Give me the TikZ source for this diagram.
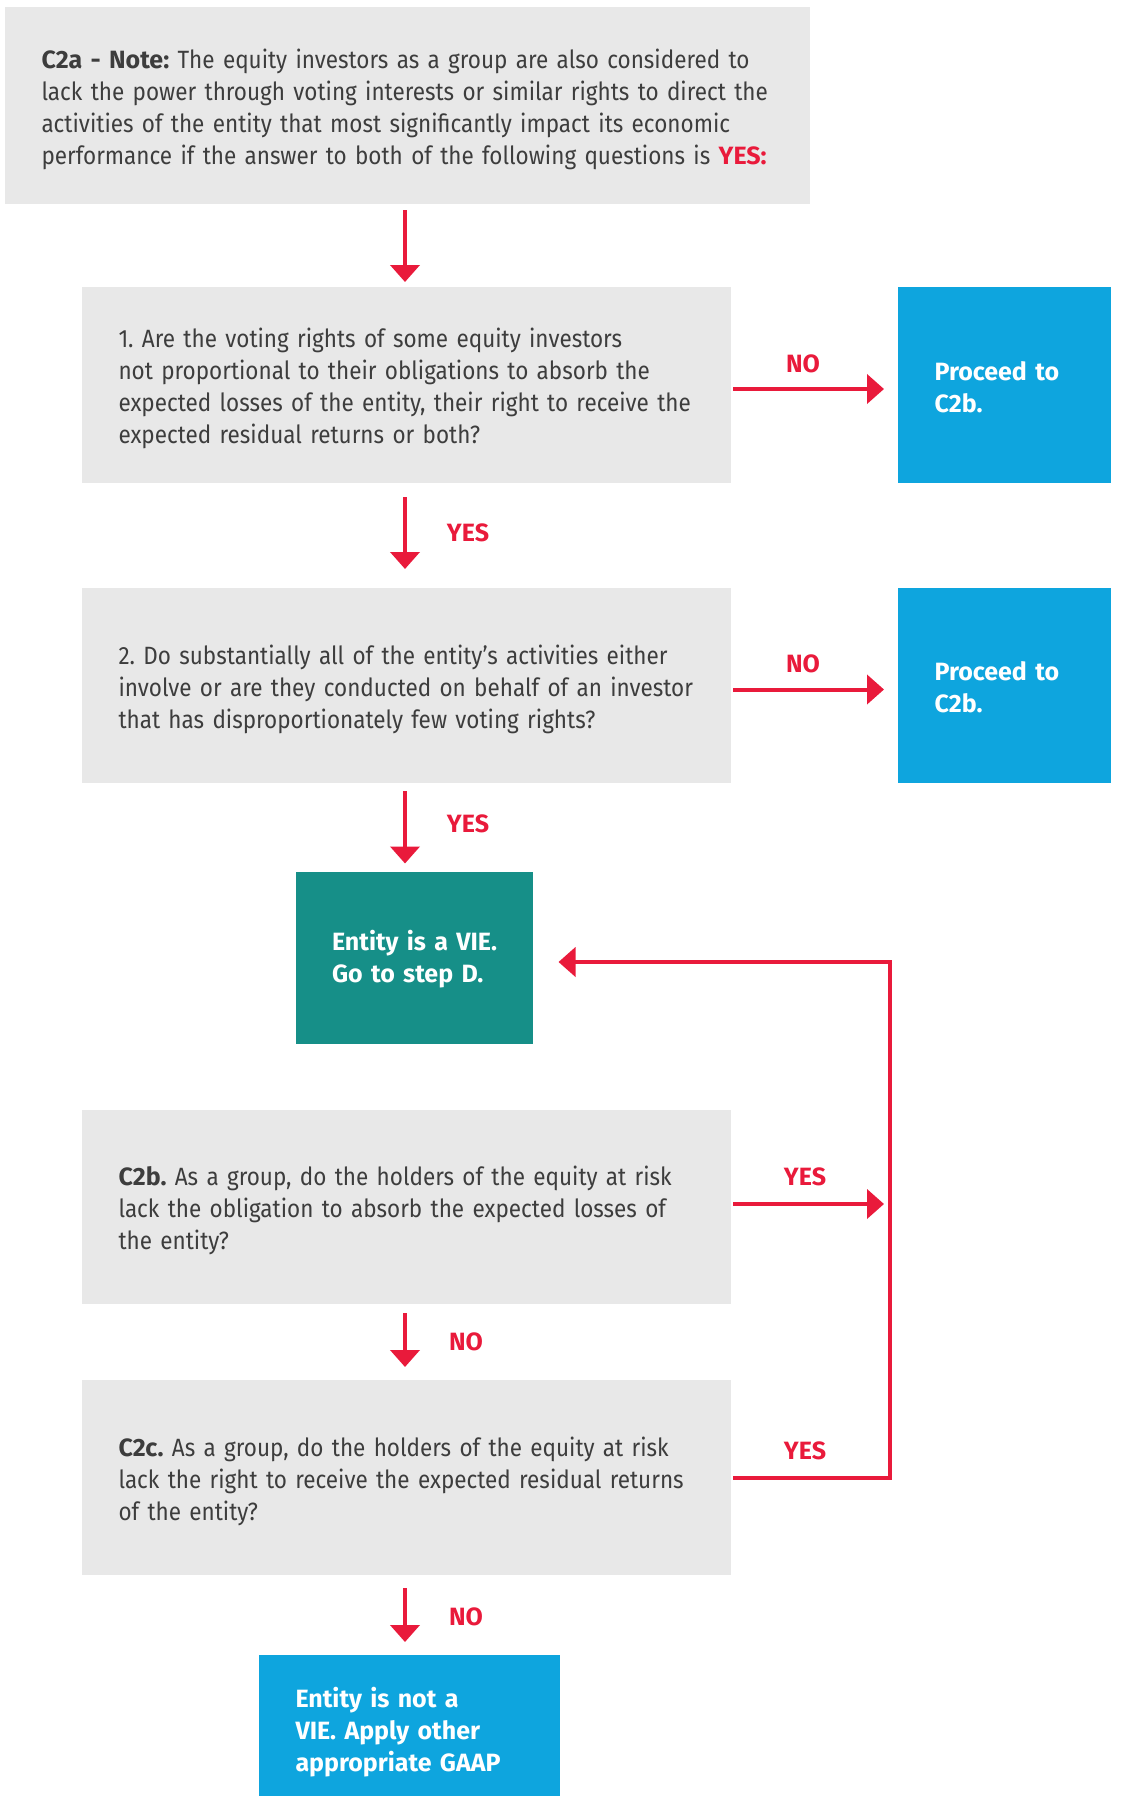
\documentclass[tikz,border=0pt]{standalone}
\usepackage{fontspec}
\setmainfont{Fira Sans}[FakeStretch=0.9, WordSpace=0.8,
  BoldFeatures={FakeStretch=1.0}]
\usetikzlibrary{arrows.meta,calc}
\frenchspacing

\definecolor{boxgrey}{HTML}{E8E8E8}
\definecolor{stepblue}{HTML}{0EA5DE}
\definecolor{stepteal}{HTML}{168F88}
\definecolor{flowred}{HTML}{E91A3B}
\definecolor{bodytext}{HTML}{3D3D3D}

\begin{document}
\begin{tikzpicture}[x=1pt,y=-1pt,
  every node/.style={inner ysep=0pt, outer sep=0pt},
  qbox/.style={fill=boxgrey, text=bodytext, anchor=north west, align=left,
    inner xsep=36.5pt, font=\fontsize{25}{32}\selectfont,
    execute at begin node={\rule{0pt}{27pt}}},
  endbox/.style={anchor=north west, align=left, text=white,
    inner xsep=36.5pt, font=\fontsize{25}{32}\selectfont\bfseries,
    execute at begin node={\rule{0pt}{23pt}}},
  lbl/.style={text=flowred, font=\fontsize{25}{30}\selectfont\bfseries},
  arr/.style={draw=flowred, line width=4pt, -{Triangle[width=29pt,length=17pt]}},
  loopline/.style={draw=flowred, line width=4pt, line join=miter}
]
\useasboundingbox (0,0) rectangle (1120,1796);

% question boxes
\node[qbox, text width=732pt, minimum height=197pt] (top) at (5,7)
  {\textbf{C2a - Note:} The equity investors as a group are also considered to\\
   lack the power through voting interests or similar rights to direct the\\
   activities of the entity that most significantly impact its economic\\
   performance if the answer to both of the following questions is \textbf{\textcolor{flowred}{YES:}}};

\node[qbox, text width=576pt, minimum height=196pt] (b1) at (82,287)
  {1. Are the voting rights of some equity investors\\
   not proportional to their obligations to absorb the\\
   expected losses of the entity, their right to receive the\\
   expected residual returns or both?};

\node[qbox, text width=576pt, minimum height=195pt] (b2) at (82,588)
  {2. Do substantially all of the entity's activities either\\
   involve or are they conducted on behalf of an investor\\
   that has disproportionately few voting rights?};

\node[qbox, text width=576pt, minimum height=194pt] (c2b) at (82,1110)
  {\textbf{C2b.} As a group, do the holders of the equity at risk\\
   lack the obligation to absorb the expected losses of\\
   the entity?};

\node[qbox, text width=576pt, minimum height=195pt] (c2c) at (82,1380)
  {\textbf{C2c.} As a group, do the holders of the equity at risk\\
   lack the right to receive the expected residual returns\\
   of the entity?};

% outcome boxes
\node[endbox, fill=stepblue, text width=140pt, minimum height=196pt] (p1) at (898,287)
  {Proceed to\\C2b.};
\node[endbox, fill=stepblue, text width=140pt, minimum height=195pt] (p2) at (898,588)
  {Proceed to\\C2b.};
\node[endbox, fill=stepteal, inner xsep=32.5pt, text width=172pt, minimum height=172pt] (vie) at (295.5,871.5)
  {\hspace*{4pt}Entity is a VIE.\\\hspace*{4pt}Go to step D.};
\node[endbox, fill=stepblue, text width=228pt, minimum height=151pt] (fin) at (259,1655)
  {Entity is not a\\VIE. Apply other\\appropriate GAAP};

% guide coordinates for the connectors
\coordinate (ax) at (405,0);
\coordinate (loop) at (890,962);

% vertical flow
\draw[arr] ([yshift=-6pt]top.south -| ax) -- ([yshift=5pt]b1.north -| ax);
\draw[arr] ([yshift=-14pt]b1.south -| ax) -- ([yshift=19pt]b2.north -| ax);
\draw[arr] ([yshift=-8pt]b2.south -| ax) -- ([yshift=8pt]vie.north -| ax);
\draw[arr] ([yshift=-9pt]c2b.south -| ax) -- ([yshift=13pt]c2c.north -| ax);
\draw[arr] ([yshift=-13pt]c2c.south -| ax) -- ([yshift=13pt]fin.north -| ax);

% NO branches to the right
\draw[arr] ([xshift=2pt,yshift=-4pt]b1.east) -- ([xshift=-14pt,yshift=-4pt]p1.west);
\draw[arr] ([xshift=2pt,yshift=-4pt]b2.east) -- ([xshift=-14pt,yshift=-4pt]p2.west);

% YES branches back to the VIE outcome
\draw[arr] ([xshift=2pt,yshift=3pt]c2b.east) -- ([xshift=-6pt,yshift=3pt]c2b.east -| loop);
\draw[loopline] ([xshift=2pt]c2c.east) -| (loop);
\draw[arr] ([xshift=2pt]loop) -- ([xshift=26pt]vie.east |- loop);

% branch labels
\node[lbl] (nop1) at (803,364) {NO};
\node[lbl] (nop2) at (803,664) {NO};
\node[lbl] (yes1) at (468,533) {YES};
\node[lbl] (yes2) at (468,824) {YES};
\node[lbl] (yes3) at (805,1177) {YES};
\node[lbl] (no3) at (466,1342) {NO};
\node[lbl] (yes4) at (805,1451) {YES};
\node[lbl] (no4) at (466,1617) {NO};
\end{tikzpicture}
\end{document}
